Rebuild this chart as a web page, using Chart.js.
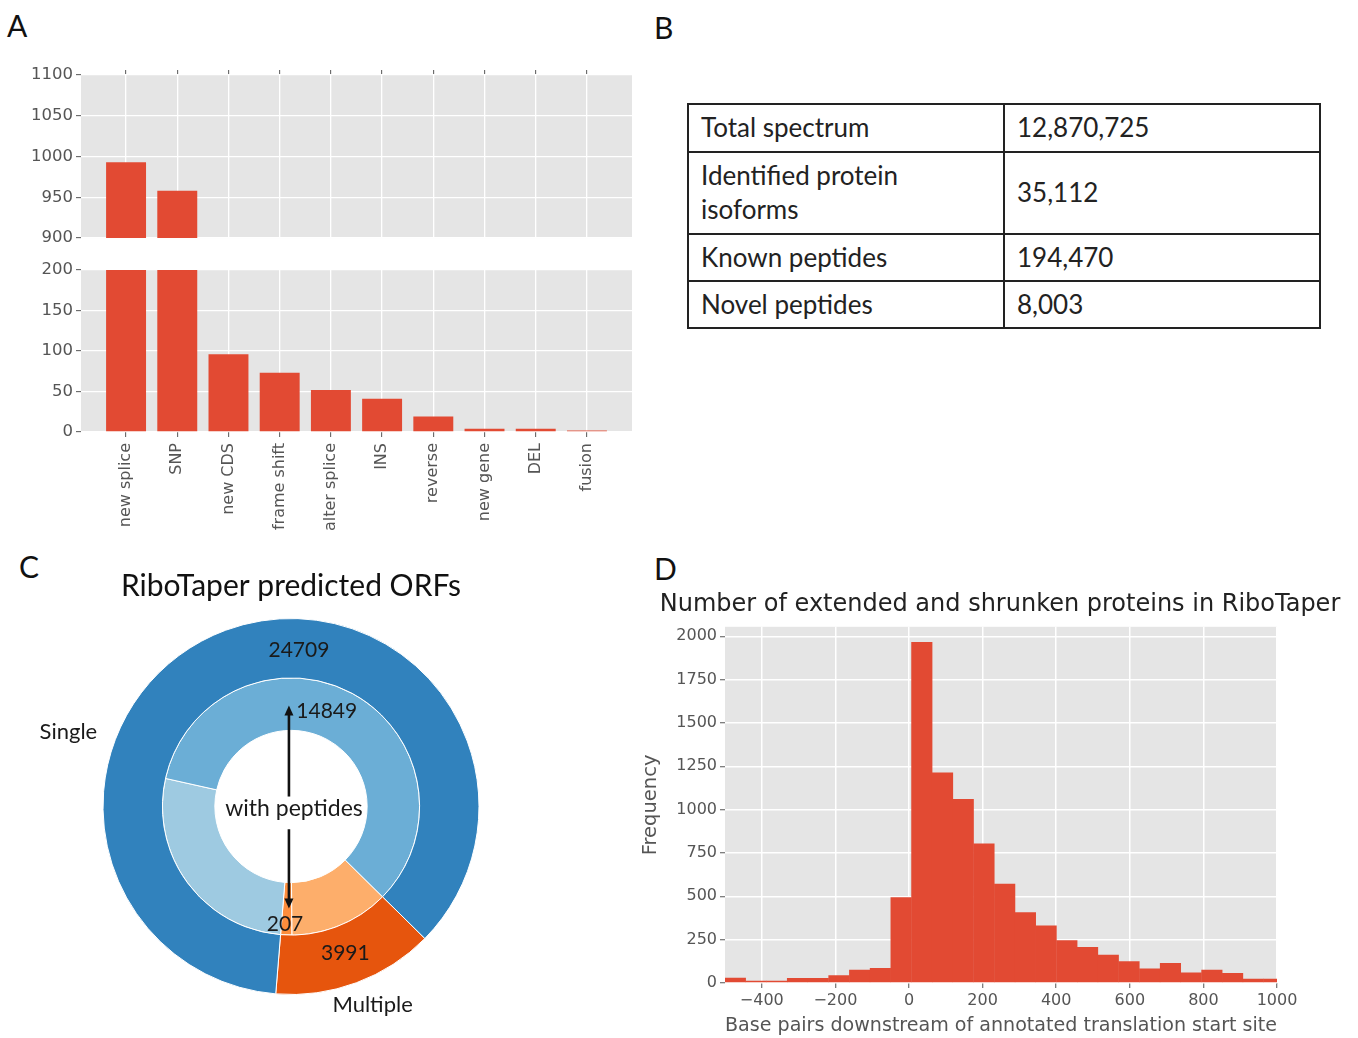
<!DOCTYPE html>
<html>
<head>
<meta charset="utf-8">
<script src="https://cdn.jsdelivr.net/npm/chart.js@4.4.1/dist/chart.umd.min.js"></script>
<style>
  html, body { margin: 0; padding: 0; background: #fff; overflow: hidden; }
  #page { position: relative; width: 1358px; height: 1038px; overflow: hidden; font-family: Lato, sans-serif; }
  canvas { position: absolute; }
  .panel { position: absolute; font-size: 30px; line-height: 1; color: #111; }
  #tbl { position: absolute; left: 687px; top: 103px; width: 634px; border-collapse: collapse; font-size: 26px; color: #222; }
  #tbl td { border: 2px solid #222; padding: 0 12px; line-height: 1.3; vertical-align: middle; width: 50%; }
</style>
</head>
<body>
<div id="page">
  <div class="panel" style="left:7px;top:10px">A</div>
  <div class="panel" style="left:654px;top:12px">B</div>
  <div class="panel" style="left:19px;top:551px">C</div>
  <div class="panel" style="left:654px;top:553px">D</div>

  <canvas id="barTop" width="650" height="201" style="left:0;top:50px"></canvas>
  <canvas id="barBottom" width="650" height="300" style="left:0;top:250px"></canvas>

  <table id="tbl">
    <tr style="height:48px"><td>Total spectrum</td><td>12,870,725</td></tr>
    <tr style="height:82px"><td>Identified protein<br>isoforms</td><td>35,112</td></tr>
    <tr style="height:47px"><td>Known peptides</td><td>194,470</td></tr>
    <tr style="height:47px"><td>Novel peptides</td><td>8,003</td></tr>
  </table>

  <canvas id="donut" width="600" height="480" style="left:0;top:555px"></canvas>
  <canvas id="hist" width="760" height="453" style="left:620px;top:585px"></canvas>
</div>

<script>
// A: novel peptide types (broken axis)
const categories = ['new splice', 'SNP', 'new CDS', 'frame shift', 'alter splice', 'INS', 'reverse', 'new gene', 'DEL', 'fusion'];
const counts = [993, 958, 96, 73, 52, 41, 19, 4, 4, 2];

// C: RiboTaper ORFs, outer ring = Single / Multiple, inner ring = split by peptides
const outerLabels = ['Multiple', 'Single'];
const outerValues = [3991, 24709];
const innerLabels = ['Multiple, no peptides', 'Multiple, with peptides', 'Single, no peptides', 'Single, with peptides'];
const innerValues = [3590, 400, 7810, 16900];
const pepSingle = 14849;
const pepMultiple = 207;

// D: histogram of start site shifts
const binCenters = [-471.85, -415.55, -359.25, -302.95, -246.65, -190.35, -134.05, -77.75, -21.45, 34.85,
  91.15, 147.45, 203.75, 260.05, 316.35, 372.65, 428.95, 485.25, 541.55, 597.85,
  654.15, 710.45, 766.75, 823.05, 879.35, 935.65, 991.95];
const binCounts = [31, 13, 13, 29, 29, 44, 77, 86, 495, 1967,
  1214, 1061, 805, 572, 408, 332, 246, 207, 163, 125,
  83, 115, 60, 77, 58, 25, 25];
const histTicksX = [-400, -200, 0, 200, 400, 600, 800, 1000];
const histTicksY = [0, 250, 500, 750, 1000, 1250, 1500, 1750, 2000];

const GREY = '#555';
const RED = '#E24A33';
const DV = 'DejaVu Sans';

// grey plot background, ggplot style
const plotBg = {
  id: 'plotBg',
  beforeDraw(chart) {
    const a = chart.chartArea;
    const ctx = chart.ctx;
    ctx.save();
    ctx.fillStyle = '#E5E5E5';
    ctx.fillRect(a.left, a.top, a.right - a.left, a.bottom - a.top);
    ctx.restore();
  }
};

function gridOpts(w) {
  return { color: '#fff', lineWidth: w || 1.3, tickColor: GREY, tickLength: 5, tickWidth: 1, offset: false };
}

const noPlugins = { legend: { display: false }, tooltip: { enabled: false } };

// ---- A top (900-1100) ----
new Chart(document.getElementById('barTop'), {
  type: 'bar',
  data: { datasets: [{ data: categories.map((c, i) => ({ x: i, y: counts[i] })), backgroundColor: RED, categoryPercentage: 1, barPercentage: 0.78 }] },
  options: {
    responsive: false, animation: false,
    layout: { padding: { left: 0, right: 18, top: 0, bottom: 0 } },
    plugins: noPlugins,
    scales: {
      x: {
        type: 'linear', position: 'top', min: -0.88, max: 9.88, offset: false,
        afterBuildTicks: s => { s.ticks = categories.map((c, i) => ({ value: i })); },
        ticks: { display: false },
        grid: gridOpts(), border: { display: false },
        afterFit: s => { s.height = 25; }
      },
      y: {
        min: 900, max: 1100,
        ticks: { stepSize: 50, color: GREY, font: { family: DV, size: 16.5 }, padding: 3, callback: v => String(v) },
        grid: gridOpts(), border: { display: false },
        afterFit: s => { s.width = 81; }
      }
    }
  },
  plugins: [plotBg]
});

// ---- A bottom (0-200) ----
new Chart(document.getElementById('barBottom'), {
  type: 'bar',
  data: { datasets: [{ data: categories.map((c, i) => ({ x: i, y: counts[i] })), backgroundColor: RED, categoryPercentage: 1, barPercentage: 0.78 }] },
  options: {
    responsive: false, animation: false,
    layout: { padding: { left: 0, right: 18, top: 20, bottom: 0 } },
    plugins: noPlugins,
    scales: {
      x: {
        type: 'linear', position: 'bottom', min: -0.88, max: 9.88, offset: false,
        afterBuildTicks: s => { s.ticks = categories.map((c, i) => ({ value: i })); },
        ticks: { autoSkip: false, minRotation: 90, maxRotation: 90, color: GREY, font: { family: DV, size: 16 }, padding: 6,
                 callback: v => categories[v] },
        grid: gridOpts(), border: { display: false },
        afterFit: s => { s.height = 118; }
      },
      y: {
        min: 0, max: 200,
        ticks: { stepSize: 50, color: GREY, font: { family: DV, size: 16.5 }, padding: 3, callback: v => String(v) },
        grid: gridOpts(), border: { display: false },
        afterFit: s => { s.width = 81; }
      }
    }
  },
  plugins: [plotBg]
});

// ---- C: nested doughnut ----
const donutText = {
  id: 'donutText',
  afterDraw(chart) {
    const arc = chart.getDatasetMeta(0).data[0];
    const cx = arc.x, cy = arc.y, R = arc.outerRadius;
    const ctx = chart.ctx;
    const notes = [
      { text: String(outerValues[1]), dx: 0.042, dy: -0.829, size: 21 },
      { text: String(pepSingle), dx: 0.19, dy: -0.508, size: 21 },
      { text: 'with peptides', dx: 0.016, dy: 0.011, size: 23 },
      { text: String(pepMultiple), dx: -0.032, dy: 0.626, size: 21 },
      { text: String(outerValues[0]), dx: 0.289, dy: 0.779, size: 21 },
      { text: 'Single', dx: -1.184, dy: -0.395, size: 22 },
      { text: 'Multiple', dx: 0.434, dy: 1.058, size: 22 }
    ];
    ctx.save();
    ctx.textAlign = 'center';
    ctx.textBaseline = 'middle';
    ctx.fillStyle = '#1a1a1a';
    notes.forEach(n => {
      ctx.font = n.size + 'px Lato';
      ctx.fillText(n.text, cx + n.dx * R, cy + n.dy * R);
    });
    // arrows from "with peptides" to the two counts
    const ax = cx - 0.011 * R;
    const arrow = (y0, y1) => {
      const dir = Math.sign(y1 - y0);
      ctx.strokeStyle = '#111';
      ctx.lineWidth = 2.6;
      ctx.beginPath();
      ctx.moveTo(ax, y0);
      ctx.lineTo(ax, y1 - dir * 6);
      ctx.stroke();
      ctx.fillStyle = '#111';
      ctx.beginPath();
      ctx.moveTo(ax, y1);
      ctx.lineTo(ax - 4.5, y1 - dir * 10);
      ctx.lineTo(ax + 4.5, y1 - dir * 10);
      ctx.closePath();
      ctx.fill();
    };
    arrow(cy - 0.053 * R, cy - 0.537 * R);
    arrow(cy + 0.121 * R, cy + 0.542 * R);
    ctx.restore();
  }
};

new Chart(document.getElementById('donut'), {
  type: 'doughnut',
  data: {
    labels: innerLabels,
    datasets: [
      { label: 'outer', data: outerValues, backgroundColor: ['#e6550d', '#3182bd'], borderColor: '#fff', borderWidth: 1, weight: 60 },
      { label: 'inner', data: innerValues, backgroundColor: ['#fdae6b', '#fd8d3c', '#9ecae1', '#6baed6'], borderColor: '#fff', borderWidth: 1, weight: 53 }
    ]
  },
  options: {
    responsive: false, animation: false,
    rotation: 134.6, cutout: '40.5%',
    layout: { padding: { left: 101, right: 119, top: 0, bottom: 40 } },
    plugins: {
      legend: { display: false }, tooltip: { enabled: false },
      title: { display: true, text: 'RiboTaper predicted ORFs', color: '#111',
               font: { family: 'Lato', size: 30, weight: 'normal' }, padding: { top: 13, bottom: 14 } }
    }
  },
  plugins: [donutText]
});

// ---- D: histogram ----
new Chart(document.getElementById('hist'), {
  type: 'bar',
  data: { datasets: [{ data: binCenters.map((c, i) => ({ x: c, y: binCounts[i] })), backgroundColor: RED, borderWidth: 0, categoryPercentage: 1, barPercentage: 1.02 }] },
  options: {
    responsive: false, animation: false,
    layout: { padding: 0 },
    plugins: {
      legend: { display: false }, tooltip: { enabled: false },
      title: { display: true, text: 'Number of extended and shrunken proteins in RiboTaper', color: '#222',
               font: { family: DV, size: 24, weight: 'normal' }, padding: { top: 5, bottom: 8 } }
    },
    scales: {
      x: {
        type: 'linear', min: -500, max: 1000, offset: false,
        afterBuildTicks: s => { s.ticks = histTicksX.map(v => ({ value: v })); },
        ticks: { color: GREY, font: { family: DV, size: 16 }, padding: 3,
                 callback: v => v < 0 ? '\u2212' + Math.abs(v) : String(v) },
        title: { display: true, text: 'Base pairs downstream of annotated translation start site', color: GREY,
                 font: { family: DV, size: 20 }, padding: { top: 0, bottom: 0 } },
        grid: gridOpts(1.5), border: { display: false },
        afterFit: s => { s.height = 55; }
      },
      y: {
        min: 0, max: 2055,
        afterBuildTicks: s => { s.ticks = histTicksY.map(v => ({ value: v })); },
        ticks: { color: GREY, font: { family: DV, size: 16 }, padding: 3, callback: v => String(v) },
        title: { display: true, text: 'Frequency', color: GREY, font: { family: DV, size: 19.5 }, padding: { top: 19, bottom: 0 } },
        grid: gridOpts(1.5), border: { display: false },
        afterFit: s => { s.width = 105; }
      },
      yPad: {
        position: 'right', display: true,
        ticks: { display: false }, grid: { display: false }, border: { display: false },
        afterFit: s => { s.width = 103; }
      }
    }
  },
  plugins: [plotBg]
});
</script>
</body>
</html>
